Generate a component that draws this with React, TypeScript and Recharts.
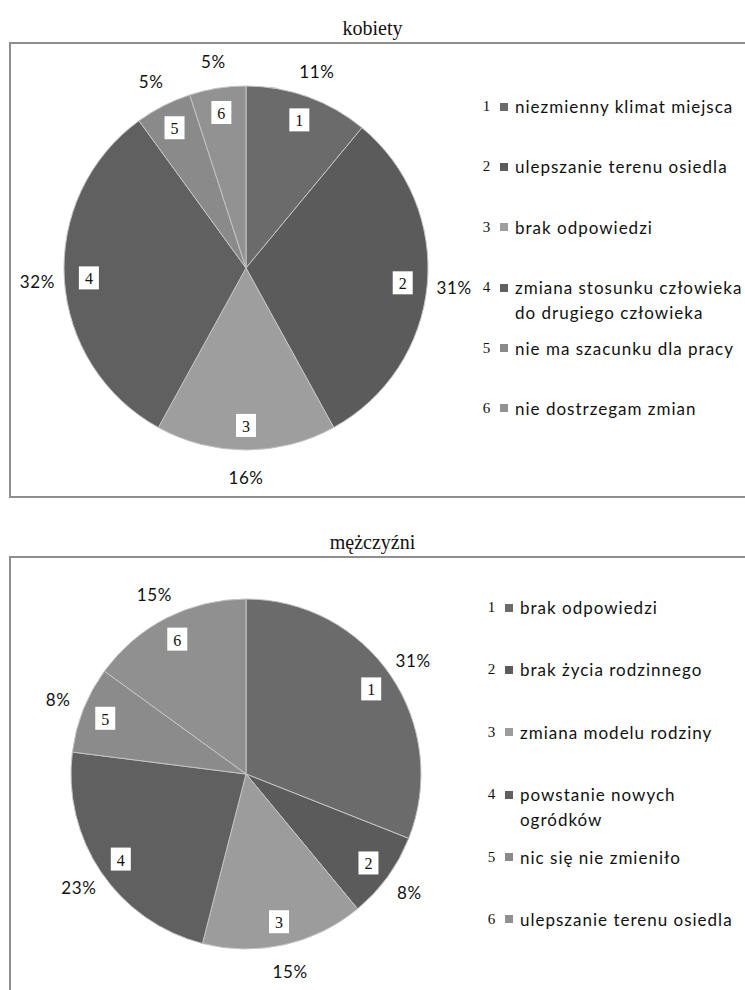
import React from 'react';
import { PieChart, Pie, Cell, Legend } from 'recharts';

const womenCategories = [
  'niezmienny klimat miejsca',
  'ulepszanie terenu osiedla',
  'brak odpowiedzi',
  'zmiana stosunku człowieka do drugiego człowieka',
  'nie ma szacunku dla pracy',
  'nie dostrzegam zmian',
];
const womenValues = [11, 31, 16, 32, 5, 5];
const womenColors = ['#6b6b6b', '#5b5b5b', '#9e9e9e', '#606060', '#8a8a8a', '#929292'];

const menCategories = [
  'brak odpowiedzi',
  'brak życia rodzinnego',
  'zmiana modelu rodziny',
  'powstanie nowych ogródków',
  'nic się nie zmieniło',
  'ulepszanie terenu osiedla',
];
const menValues = [31, 8, 15, 23, 8, 15];
const menColors = ['#6b6b6b', '#5b5b5b', '#9c9c9c', '#606060', '#8b8b8b', '#909090'];

const sliceNumbers = ['1', '2', '3', '4', '5', '6'];

const SANS = 'Lato, "Open Sans", sans-serif';
const SERIF = '"Liberation Serif", "Times New Roman", serif';
const RAD = Math.PI / 180;

const renderLabel = (p: any) => {
  const { cx, cy, midAngle, outerRadius, index, value } = p;
  const c = Math.cos(-midAngle * RAD);
  const s = Math.sin(-midAngle * RAD);
  const ri = outerRadius * 0.865;
  const ro = outerRadius + 27;
  const xi = cx + ri * c;
  const yi = cy + ri * s;
  const xo = cx + ro * c;
  const yo = cy + ro * s;
  return (
    <g>
      <rect x={xi - 10} y={yi - 11.5} width={20} height={23} fill="#ffffff" />
      <text x={xi} y={yi + 1} textAnchor="middle" dominantBaseline="central" fontFamily={SERIF} fontSize={16} fill="#111">
        {sliceNumbers[index]}
      </text>
      <text x={xo} y={yo} textAnchor="middle" dominantBaseline="central" fontFamily={SANS} fontSize={17} fill="#111" letterSpacing={0.6}>
        {value}%
      </text>
    </g>
  );
};

function makeLegend(categories: string[], colors: string[], pitch: number) {
  return () => (
    <div>
      {categories.map((cat, i) => (
        <div key={i} style={{ display: 'flex', alignItems: 'flex-start', height: pitch }}>
          <div style={{ display: 'flex', alignItems: 'center', height: 25 }}>
            <span style={{ fontFamily: SERIF, fontSize: 15, width: 9, textAlign: 'center', color: '#111' }}>{sliceNumbers[i]}</span>
            <span style={{ width: 8, height: 8, background: colors[i], marginLeft: 9, marginRight: 7 }} />
          </div>
          <div style={{ width: 228, fontFamily: SANS, fontSize: 17, lineHeight: '25px', letterSpacing: 1.0, color: '#111' }}>{cat}</div>
        </div>
      ))}
    </div>
  );
}

function Section(props: {
  title: string; top: number; boxHeight: number; cats: string[]; vals: number[]; colors: string[];
  legendLeft: number; legendTop: number; pitch: number; cy: number; r: number;
}) {
  const data = props.cats.map((name, i) => ({ name, value: props.vals[i] }));
  return (
    <>
      <div style={{ position: 'absolute', left: 0, top: props.top - 26, width: 745, textAlign: 'center', fontFamily: SERIF, fontSize: 20, lineHeight: '24px', color: '#111' }}>
        {props.title}
      </div>
      <div style={{ position: 'absolute', left: 9, top: props.top, width: 760, height: props.boxHeight, borderLeft: '2px solid #8e8e8e', borderTop: '2px solid #8e8e8e', borderBottom: '2px solid #8e8e8e', boxSizing: 'border-box' }} />
      <div style={{ position: 'absolute', left: 0, top: props.top }}>
        <PieChart width={745} height={props.boxHeight} margin={{ top: 0, right: 0, bottom: 0, left: 0 }}>
          <Pie
            data={data}
            dataKey="value"
            nameKey="name"
            cx={246}
            cy={props.cy}
            outerRadius={props.r}
            startAngle={90}
            endAngle={-270}
            stroke="#c4c4c4"
            strokeWidth={1}
            label={renderLabel}
            labelLine={false}
            isAnimationActive={false}
          >
            {data.map((d, i) => (
              <Cell key={i} fill={props.colors[i]} />
            ))}
          </Pie>
          <Legend
            layout="vertical"
            align="right"
            verticalAlign="top"
            content={makeLegend(props.cats, props.colors, props.pitch)}
            wrapperStyle={{ left: props.legendLeft, top: props.legendTop, width: 270 }}
          />
        </PieChart>
      </div>
    </>
  );
}

export default function App() {
  return (
    <div style={{ position: 'absolute', left: 0, top: 0, width: 745, height: 990, overflow: 'hidden', background: '#fff' }}>
      <Section title="kobiety" top={42} boxHeight={456} cats={womenCategories} vals={womenValues} colors={womenColors}
        legendLeft={482} legendTop={106 - 12 - 42} pitch={60.4} cy={226} r={182} />
      <Section title="mężczyźni" top={556} boxHeight={500} cats={menCategories} vals={menValues} colors={menColors}
        legendLeft={487} legendTop={607 - 12 - 556} pitch={62.4} cy={218} r={175} />
    </div>
  );
}
